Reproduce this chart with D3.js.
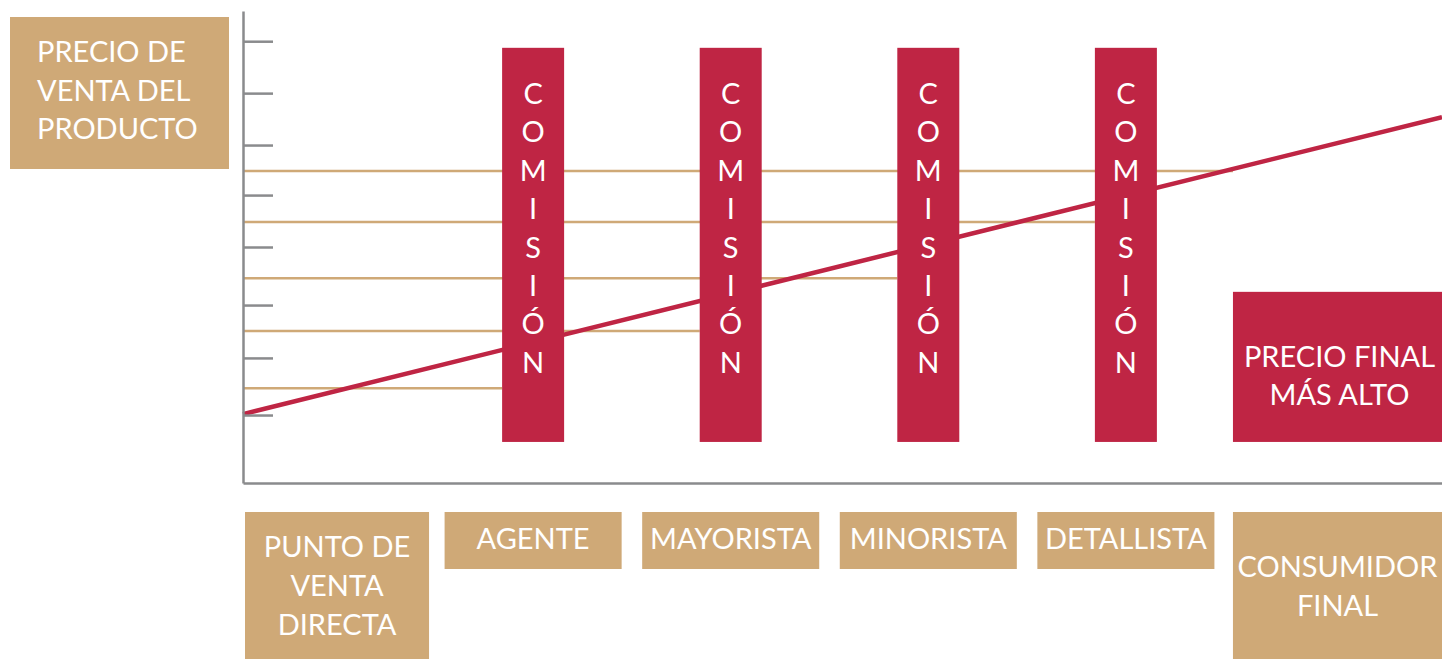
<!DOCTYPE html>
<html lang="es">
<head>
<meta charset="utf-8">
<title>Precio de venta del producto</title>
<script src="https://cdn.jsdelivr.net/npm/d3@7"></script>
<style>
  html, body { margin: 0; padding: 0; background: #ffffff; }
  svg { display: block; }
  text { font-family: Lato, "Open Sans", sans-serif; fill: #ffffff; }
</style>
</head>
<body>
<svg id="chart" width="1442" height="660"></svg>
<script>
// Distribution stages along the horizontal axis
const stages = ["PUNTO DE VENTA DIRECTA", "AGENTE", "MAYORISTA", "MINORISTA", "DETALLISTA", "CONSUMIDOR FINAL"];
const stageLabelLines = [["PUNTO DE", "VENTA", "DIRECTA"], ["AGENTE"], ["MAYORISTA"], ["MINORISTA"], ["DETALLISTA"], ["CONSUMIDOR", "FINAL"]];

// Intermediaries that add a commission
const commissionStages = ["AGENTE", "MAYORISTA", "MINORISTA", "DETALLISTA"];
const commissionLabel = "COMISIÓN";
const commissionRange = [8.7, 92.2];

// Price level reached at each stage (one per stage before the consumer)
const priceLevels = [20.1, 32.2, 43.4, 55.3, 66.1];

// Rising selling price from the point of sale to the final consumer
const priceLine = [14.6, 77.5];

// Unlabelled tick marks on the price axis
const axisTicks = [14.4, 26.5, 37.7, 50.0, 61.0, 71.6, 82.6, 93.6];

const yTitleLines = ["PRECIO DE", "VENTA DEL", "PRODUCTO"];
const finalLabelLines = ["PRECIO FINAL", "MÁS ALTO"];
const finalBoxRange = [8.7, 40.5];

// ---- layout ----
const W = 1442, H = 660;
const axisX = 243, axisY = 483, axisTop = 11;
const red = "#BF2544", tan = "#CFA977", grey = "#8A8B8D";
const fontSize = 29, lineH = 39, capH = 21;

const svg = d3.select("#chart");

const y = d3.scaleLinear().domain([0, 100]).range([axisY, axisTop]);
const t = d3.scaleLinear().domain([0, 1]).range([axisX, W]);
const xb = d3.scaleBand().domain(stages).range([247, 1412]).paddingInner(0.104).paddingOuter(0);
const barW = 62;
const barCenter = s => xb(s) + xb.bandwidth() / 2;
const finalBoxX = xb(stages[stages.length - 1]) - 2;

// Horizontal price levels, each reaching the next intermediary
svg.append("g").selectAll("line")
  .data(priceLevels)
  .join("line")
  .attr("x1", axisX)
  .attr("x2", (d, i) => i + 1 < stages.length - 1 ? barCenter(stages[i + 1]) - barW / 2 : finalBoxX)
  .attr("y1", d => y(d))
  .attr("y2", d => y(d))
  .attr("stroke", tan)
  .attr("stroke-width", 2.5);

// Rising price line
svg.append("path")
  .datum(priceLine)
  .attr("d", d3.line().x((d, i) => t(i / (priceLine.length - 1))).y(d => y(d)))
  .attr("fill", "none")
  .attr("stroke", red)
  .attr("stroke-width", 4.5);

// Axes
svg.append("g")
  .attr("transform", `translate(${axisX},0)`)
  .call(d3.axisRight(y).tickValues(axisTicks).tickSize(30).tickSizeOuter(0).tickFormat(""))
  .call(g => g.selectAll("path, line").attr("stroke", grey).attr("stroke-width", 2.5));

svg.append("g")
  .attr("transform", `translate(0,${axisY})`)
  .call(d3.axisBottom(t).tickValues([]).tickSizeOuter(0))
  .call(g => g.select("path").attr("stroke", grey).attr("stroke-width", 2.5));

// Commission bars
const bars = svg.append("g").selectAll("g")
  .data(commissionStages)
  .join("g");

bars.append("rect")
  .attr("x", d => barCenter(d) - barW / 2)
  .attr("y", y(commissionRange[1]))
  .attr("width", barW)
  .attr("height", y(commissionRange[0]) - y(commissionRange[1]))
  .attr("fill", red);

bars.append("text")
  .attr("text-anchor", "middle")
  .attr("font-size", fontSize)
  .selectAll("tspan")
  .data(d => Array.from(commissionLabel).map(ch => ({ ch, s: d })))
  .join("tspan")
  .attr("x", d => barCenter(d.s))
  .attr("y", (d, i) => 104 + i * 38.4)
  .text(d => d.ch);

// Final price box
const fbTop = y(finalBoxRange[1]), fbBottom = y(finalBoxRange[0]);
svg.append("rect")
  .attr("x", finalBoxX)
  .attr("y", fbTop)
  .attr("width", W - finalBoxX)
  .attr("height", fbBottom - fbTop)
  .attr("fill", red);

svg.append("text")
  .attr("text-anchor", "middle")
  .attr("font-size", fontSize)
  .selectAll("tspan")
  .data(finalLabelLines)
  .join("tspan")
  .attr("x", (finalBoxX + W) / 2 + 2)
  .attr("y", (d, i) => fbTop + 75 + i * 38)
  .text(d => d);

// Price axis title box
const titleBox = { x: 10, y: 17, w: 219, h: 152 };
svg.append("rect")
  .attr("x", titleBox.x).attr("y", titleBox.y)
  .attr("width", titleBox.w).attr("height", titleBox.h)
  .attr("fill", tan);

svg.append("text")
  .attr("font-size", 29)
  .selectAll("tspan")
  .data(yTitleLines)
  .join("tspan")
  .attr("x", 37)
  .attr("y", (d, i) => 62 + i * 38.5)
  .text(d => d);

// Stage boxes under the axis
const rowTop = 512;
const stageG = svg.append("g").selectAll("g")
  .data(stages)
  .join("g");

const boxX = (d, i) => i === 0 ? xb(d) - 2 : xb(d);
const boxW = (d, i) => i === 0 ? xb.bandwidth() + 7 : (i === stages.length - 1 ? W - xb(d) + 2 : xb.bandwidth());
const boxH = (d, i) => stageLabelLines[i].length > 1 ? H - rowTop - 1 : 57;

stageG.append("rect")
  .attr("x", (d, i) => boxX(d, i) + (i === stages.length - 1 ? -2 : 0))
  .attr("y", rowTop)
  .attr("width", boxW)
  .attr("height", boxH)
  .attr("fill", tan);

stageG.append("text")
  .attr("text-anchor", "middle")
  .attr("font-size", fontSize)
  .each(function (d, i) {
    const lines = stageLabelLines[i];
    const cx = (i === stages.length - 1) ? (xb(d) - 2 + W) / 2 : boxX(d, i) + boxW(d, i) / 2;
    const cy = rowTop + boxH(d, i) / 2;
    const first = cy - (lines.length - 1) * lineH / 2 + capH / 2 - (lines.length === 1 ? 2 : 0);
    d3.select(this).selectAll("tspan")
      .data(lines)
      .join("tspan")
      .attr("x", cx)
      .attr("y", (l, k) => first + k * lineH)
      .text(l => l);
  });
</script>
</body>
</html>
